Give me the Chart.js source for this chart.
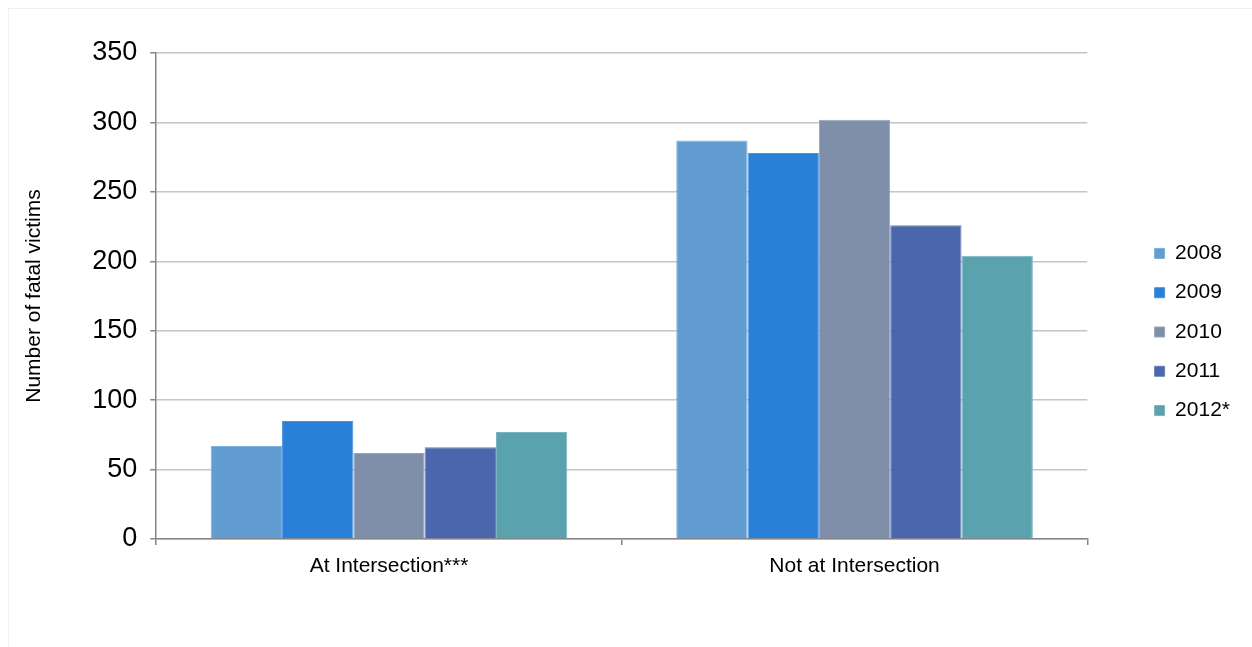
<!DOCTYPE html>
<html>
<head>
<meta charset="utf-8">
<script src="https://cdn.jsdelivr.net/npm/chart.js@4.4.1/dist/chart.umd.min.js"></script>
<style>
  html, body { margin: 0; padding: 0; background: #fff; }
  #wrap { position: relative; width: 1252px; height: 647px; overflow: hidden; }
  #frame { position: absolute; left: 8px; top: 8px; width: 1300px; height: 700px; border: 1px solid #f0f0f0; box-sizing: border-box; }
  canvas { position: absolute; left: 0; top: 0; }
</style>
</head>
<body>
<div id="wrap">
  <div id="frame"></div>
  <canvas id="c" width="1252" height="647"></canvas>
</div>
<script>
const categories = ["At Intersection***", "Not at Intersection"];
const seriesNames = ["2008", "2009", "2010", "2011", "2012*"];
const v2008 = [67, 287];
const v2009 = [85, 278];
const v2010 = [62, 302];
const v2011 = [66, 226];
const v2012 = [77, 204];
const yTicks = [0, 50, 100, 150, 200, 250, 300, 350];

const seriesValues = [v2008, v2009, v2010, v2011, v2012];
const colors = ["#629DD1", "#2A7FD7", "#7F8FA9", "#4A66AC", "#5AA2AE"];
const edges  = ["#7DB0DC", "#4A93DE", "#97A4BA", "#6A80BA", "#7BB5BE"];

const FONT = "'Liberation Sans', Arial, sans-serif";

new Chart(document.getElementById('c'), {
  type: 'bar',
  data: {
    labels: categories,
    datasets: seriesNames.map((n, i) => ({
      label: n,
      data: seriesValues[i],
      backgroundColor: colors[i],
      borderColor: edges[i],
      borderWidth: 1,
      barPercentage: 1.0,
      categoryPercentage: 0.766
    }))
  },
  options: {
    responsive: false,
    animation: false,
    layout: { padding: { left: 22, top: 53, right: 12, bottom: 36 } },
    plugins: {
      legend: {
        position: 'right',
        align: 'center',
        labels: {
          font: { family: FONT, size: 21 },
          color: '#000',
          boxWidth: 10,
          boxHeight: 10,
          padding: 18.3
        }
      },
      tooltip: { enabled: false }
    },
    scales: {
      x: {
        grid: { display: true, drawOnChartArea: false, drawTicks: true, tickLength: 6, color: '#868686', lineWidth: 1.5 },
        border: { display: true, color: '#868686', width: 1.5 },
        ticks: { font: { family: FONT, size: 21 }, color: '#000', padding: 9 },
        afterFit: s => { s.height = 72; }
      },
      y: {
        min: 0, max: 350,
        afterBuildTicks: s => { s.ticks = yTicks.map(v => ({ value: v })); },
        grid: { color: '#c4c4c4', lineWidth: 1.5, tickLength: 6, tickColor: '#868686' },
        border: { display: true, color: '#868686', width: 1.5 },
        ticks: { font: { family: FONT, size: 27 }, color: '#000', padding: 13 },
        title: { display: true, text: 'Number of fatal victims', font: { family: FONT, size: 21 }, color: '#000', padding: { top: 0, bottom: 32 } }
      },
      gap: {
        position: 'right',
        display: true,
        grid: { display: false, drawOnChartArea: false },
        border: { display: false },
        ticks: { display: false },
        afterFit: s => { s.width = 49; }
      }
    }
  }
});
</script>
</body>
</html>
